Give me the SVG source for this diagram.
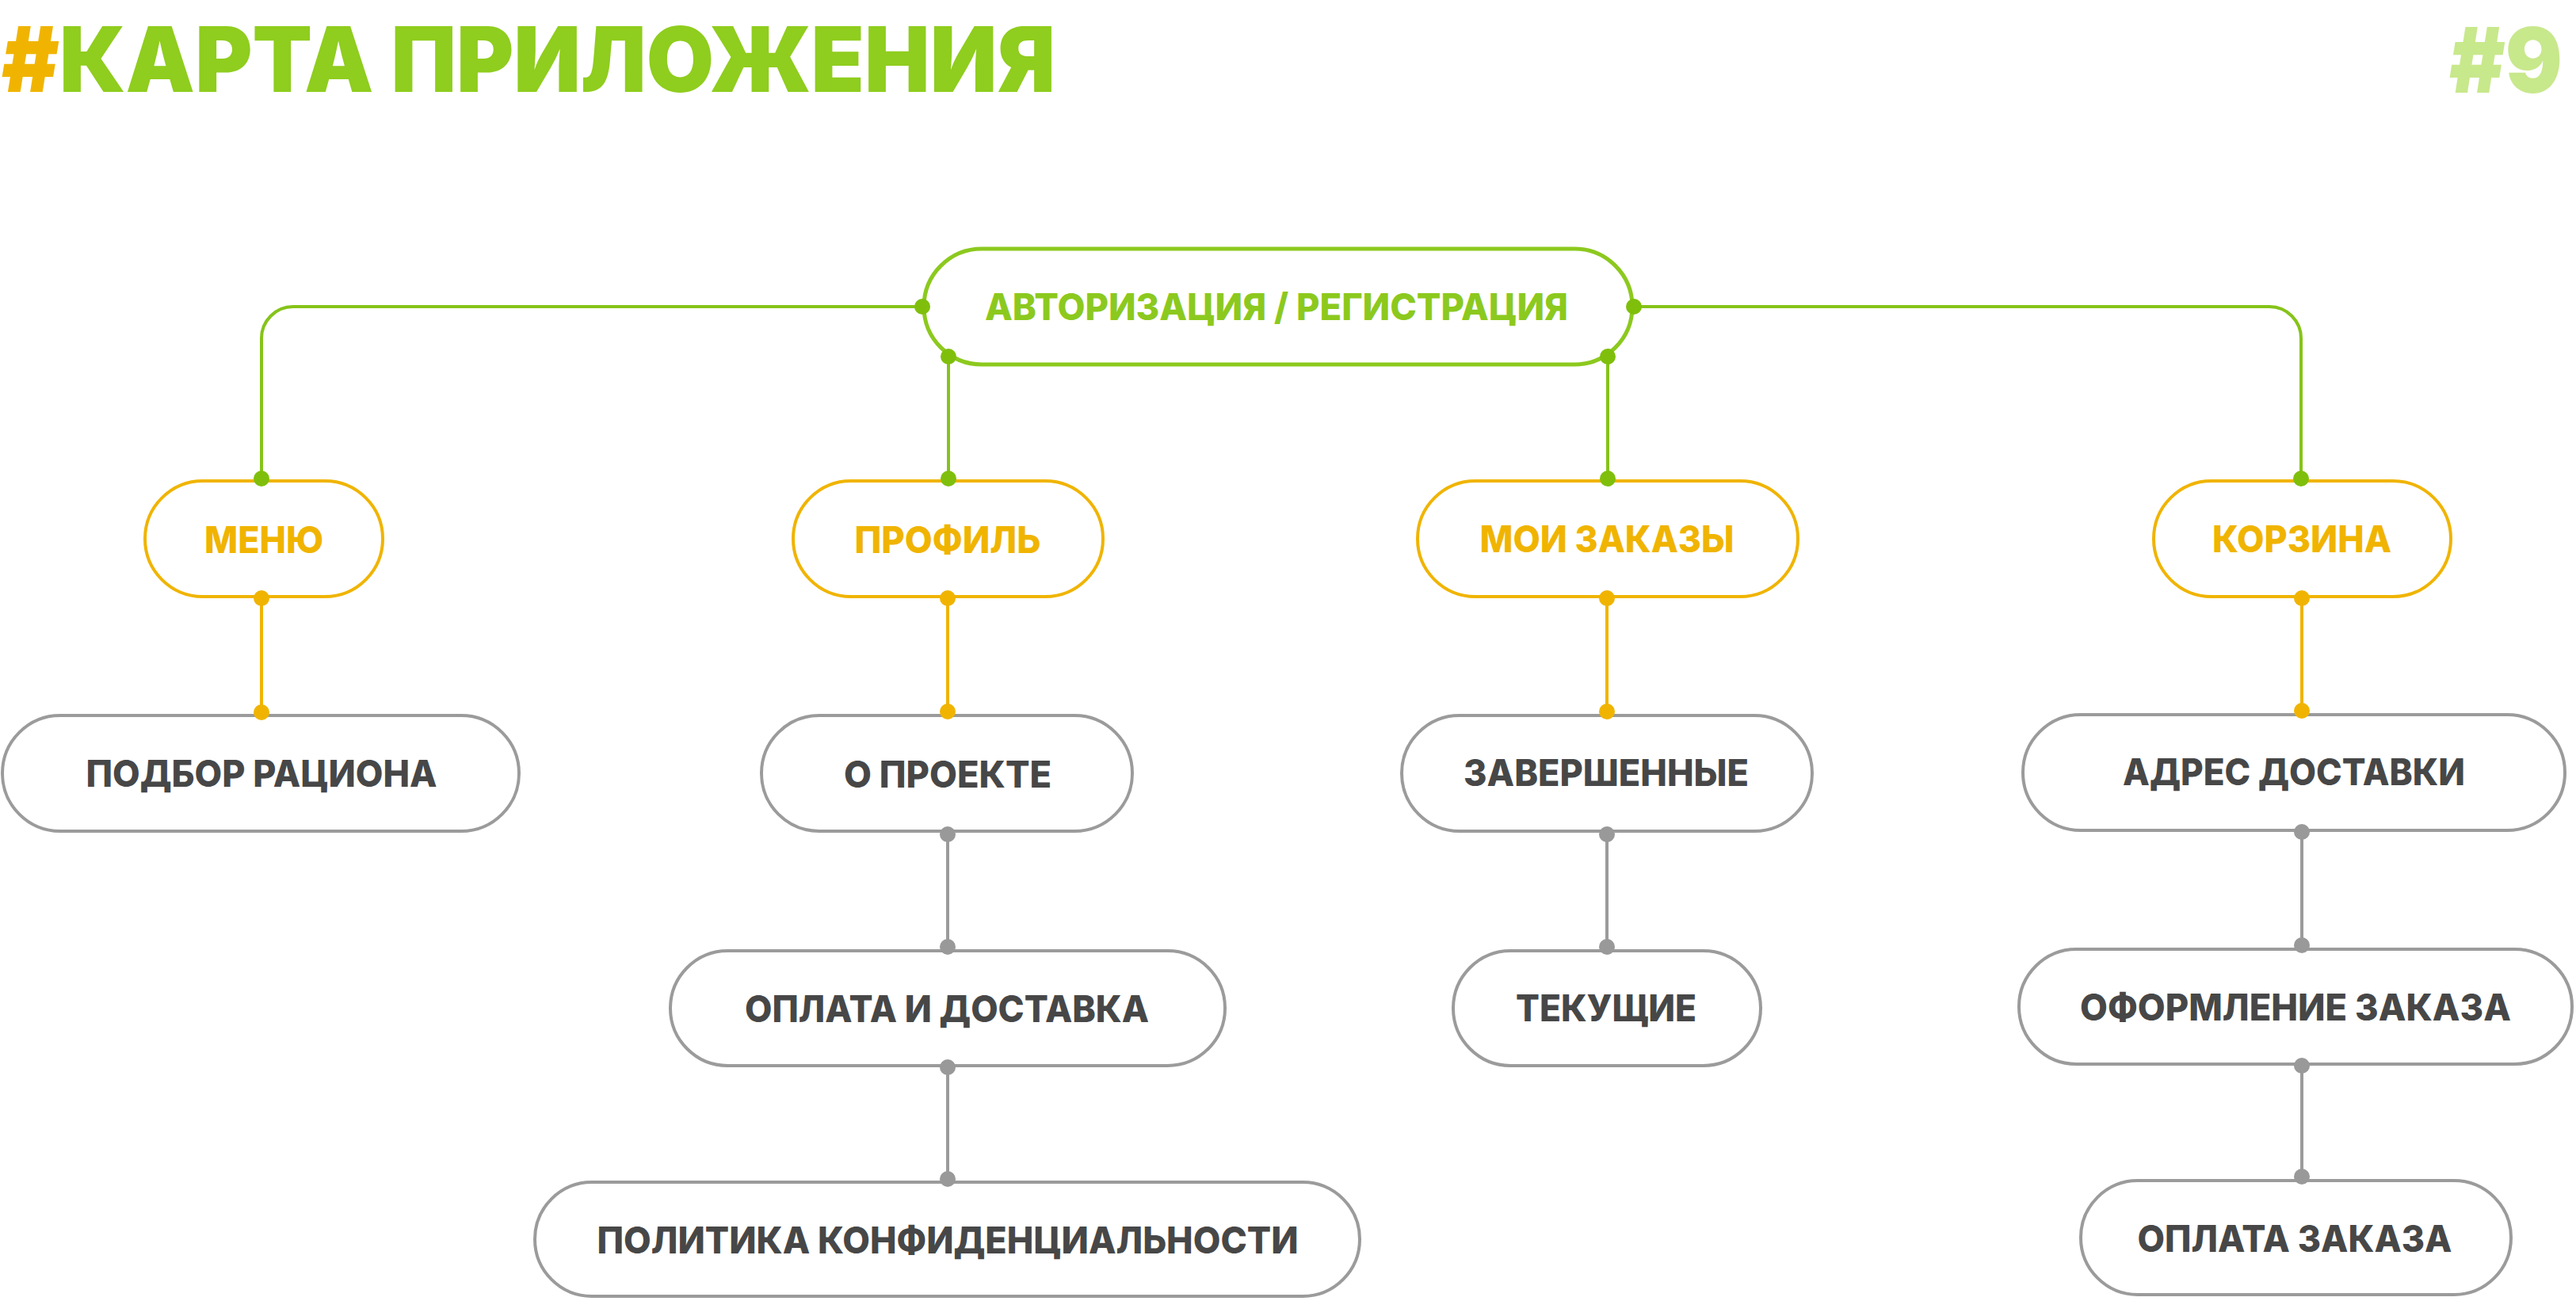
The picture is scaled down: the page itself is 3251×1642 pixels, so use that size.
<svg xmlns="http://www.w3.org/2000/svg" width="3251" height="1642" viewBox="0 0 3251 1642">
<style>
.t{font-family:Inter,"Liberation Sans","DejaVu Sans",sans-serif;font-weight:800;font-size:47px;text-anchor:middle}
.h{font-family:Inter,"Liberation Sans","DejaVu Sans",sans-serif;font-weight:900;font-size:114px}
.gn{fill:#fff;stroke:#8CC91E;stroke-width:5}
.on{fill:#fff;stroke:#F0B400;stroke-width:4}
.rn{fill:#fff;stroke:#9B9B9B;stroke-width:4}
.gt{fill:#8CC91E}
.ot{fill:#F0B400}
.rt{fill:#474747}
.gl{fill:none;stroke:#86C31A;stroke-width:4}
.ol{fill:none;stroke:#F0B400;stroke-width:4}
.rl{fill:none;stroke:#9B9B9B;stroke-width:4}
.gd{fill:#7FBF0C}
.od{fill:#F0B400}
.rd{fill:#999}
</style>
<rect width="3251" height="1642" fill="#fff"/>
<g id="title">
<text class="h" x="2" y="116" textLength="1330" lengthAdjust="spacingAndGlyphs"><tspan fill="#F0B400">#</tspan><tspan fill="#8FCD1E">КАРТА ПРИЛОЖЕНИЯ</tspan></text>
<text class="h" x="3091" y="117" fill="#C8E88C" textLength="143" lengthAdjust="spacingAndGlyphs">#9</text>
</g>
<g id="connectors">
<path class="gl" d="M1164,387 H370 A40,40 0 0 0 330,427 V604"/>
<path class="gl" d="M2062,387 H2864 A40,40 0 0 1 2904,427 V604"/>
<path class="gl" d="M1197,450 V604"/>
<path class="gl" d="M2029,450 V604"/>
<path class="ol" d="M330,755 V899"/>
<path class="ol" d="M1196,755 V898"/>
<path class="ol" d="M2028,755 V898"/>
<path class="ol" d="M2905,755 V897"/>
<path class="rl" d="M1196,1053 V1195"/>
<path class="rl" d="M1196,1347 V1488"/>
<path class="rl" d="M2028,1053 V1195"/>
<path class="rl" d="M2905,1050 V1193"/>
<path class="rl" d="M2905,1345 V1485"/>
</g>
<g id="n-auth">
<rect class="gn" x="1166" y="314" width="894" height="146" rx="73"/>
<text class="t gt" x="1611" y="404" font-size="48" textLength="736" lengthAdjust="spacingAndGlyphs">АВТОРИЗАЦИЯ / РЕГИСТРАЦИЯ</text>
</g>
<g id="n-menu">
<rect class="on" x="183" y="607" width="300" height="146" rx="73"/>
<text class="t ot" x="333" y="698" textLength="150" lengthAdjust="spacingAndGlyphs">МЕНЮ</text>
</g>
<g id="n-profile">
<rect class="on" x="1001" y="607" width="391" height="146" rx="73"/>
<text class="t ot" x="1196" y="698" textLength="235" lengthAdjust="spacingAndGlyphs">ПРОФИЛЬ</text>
</g>
<g id="n-orders">
<rect class="on" x="1789" y="607" width="480" height="146" rx="73"/>
<text class="t ot" x="2028" y="697" textLength="321" lengthAdjust="spacingAndGlyphs">МОИ ЗАКАЗЫ</text>
</g>
<g id="n-cart">
<rect class="on" x="2718" y="607" width="375" height="146" rx="73"/>
<text class="t ot" x="2905" y="697" textLength="226" lengthAdjust="spacingAndGlyphs">КОРЗИНА</text>
</g>
<g id="n-podbor">
<rect class="rn" x="3" y="903" width="652" height="146" rx="73"/>
<text class="t rt" x="330" y="993" textLength="443" lengthAdjust="spacingAndGlyphs">ПОДБОР РАЦИОНА</text>
</g>
<g id="n-about">
<rect class="rn" x="961" y="903" width="468" height="146" rx="73"/>
<text class="t rt" x="1196" y="994" textLength="262" lengthAdjust="spacingAndGlyphs">О ПРОЕКТЕ</text>
</g>
<g id="n-payment-delivery">
<rect class="rn" x="846" y="1200" width="700" height="145" rx="72.5"/>
<text class="t rt" x="1195" y="1290" textLength="510" lengthAdjust="spacingAndGlyphs">ОПЛАТА И ДОСТАВКА</text>
</g>
<g id="n-privacy">
<rect class="rn" x="675" y="1492" width="1041" height="144" rx="72"/>
<text class="t rt" x="1196" y="1582" textLength="885" lengthAdjust="spacingAndGlyphs">ПОЛИТИКА КОНФИДЕНЦИАЛЬНОСТИ</text>
</g>
<g id="n-completed">
<rect class="rn" x="1769" y="903" width="518" height="146" rx="73"/>
<text class="t rt" x="2027" y="992" textLength="360" lengthAdjust="spacingAndGlyphs">ЗАВЕРШЕННЫЕ</text>
</g>
<g id="n-current">
<rect class="rn" x="1834" y="1200" width="388" height="145" rx="72.5"/>
<text class="t rt" x="2027" y="1289" textLength="228" lengthAdjust="spacingAndGlyphs">ТЕКУЩИЕ</text>
</g>
<g id="n-address">
<rect class="rn" x="2553" y="902" width="684" height="146" rx="73"/>
<text class="t rt" x="2895" y="991" textLength="432" lengthAdjust="spacingAndGlyphs">АДРЕС ДОСТАВКИ</text>
</g>
<g id="n-checkout">
<rect class="rn" x="2548" y="1198" width="698" height="145" rx="72.5"/>
<text class="t rt" x="2897" y="1288" textLength="544" lengthAdjust="spacingAndGlyphs">ОФОРМЛЕНИЕ ЗАКАЗА</text>
</g>
<g id="n-order-payment">
<rect class="rn" x="2626" y="1490" width="543" height="144" rx="72"/>
<text class="t rt" x="2896" y="1580" textLength="397" lengthAdjust="spacingAndGlyphs">ОПЛАТА ЗАКАЗА</text>
</g>
<g id="dots">
<circle class="gd" cx="1164" cy="387" r="10"/>
<circle class="gd" cx="2062" cy="387" r="10"/>
<circle class="gd" cx="1197" cy="450" r="10"/>
<circle class="gd" cx="2029" cy="450" r="10"/>
<circle class="gd" cx="330" cy="604" r="10"/>
<circle class="gd" cx="1197" cy="604" r="10"/>
<circle class="gd" cx="2029" cy="604" r="10"/>
<circle class="gd" cx="2904" cy="604" r="10"/>
<circle class="od" cx="330" cy="755" r="10"/>
<circle class="od" cx="330" cy="899" r="10"/>
<circle class="od" cx="1196" cy="755" r="10"/>
<circle class="od" cx="1196" cy="898" r="10"/>
<circle class="od" cx="2028" cy="755" r="10"/>
<circle class="od" cx="2028" cy="898" r="10"/>
<circle class="od" cx="2905" cy="755" r="10"/>
<circle class="od" cx="2905" cy="897" r="10"/>
<circle class="rd" cx="1196" cy="1053" r="10"/>
<circle class="rd" cx="1196" cy="1195" r="10"/>
<circle class="rd" cx="1196" cy="1347" r="10"/>
<circle class="rd" cx="1196" cy="1488" r="10"/>
<circle class="rd" cx="2028" cy="1053" r="10"/>
<circle class="rd" cx="2028" cy="1195" r="10"/>
<circle class="rd" cx="2905" cy="1050" r="10"/>
<circle class="rd" cx="2905" cy="1193" r="10"/>
<circle class="rd" cx="2905" cy="1345" r="10"/>
<circle class="rd" cx="2905" cy="1485" r="10"/>
</g>
</svg>
